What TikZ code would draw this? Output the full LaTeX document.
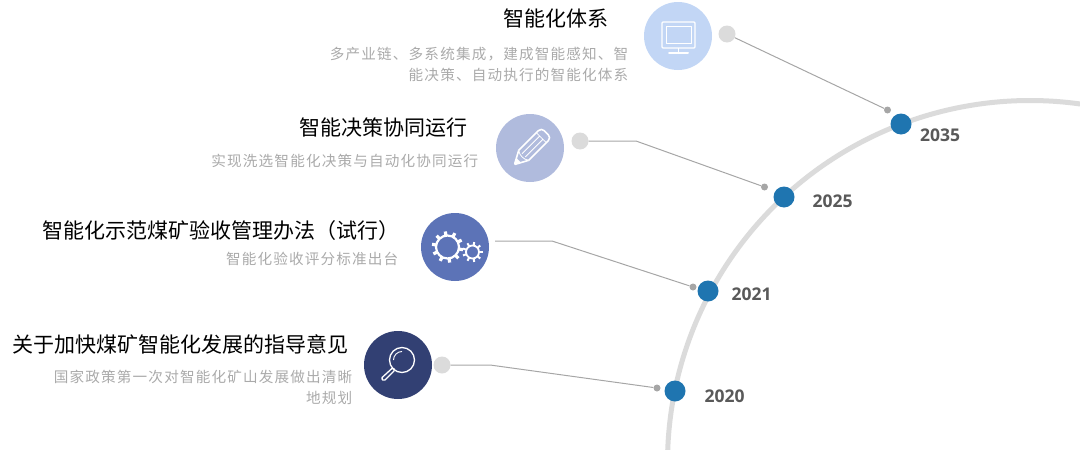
\documentclass[tikz,border=0pt]{standalone}
\usepackage{fontspec}
\setmainfont{Noto Sans CJK SC}
\newfontfamily\subfont[LetterSpace=8]{Noto Sans CJK SC}
\newfontfamily\yearfont{Open Sans}
\definecolor{myblue}{RGB}{31,117,176}
\definecolor{myarc}{RGB}{219,219,219}
\definecolor{myline}{RGB}{166,166,166}
\definecolor{mytext}{RGB}{170,170,170}
\definecolor{myyear}{RGB}{89,89,89}
\definecolor{iconA}{RGB}{194,214,245}
\definecolor{iconB}{RGB}{176,187,221}
\definecolor{iconC}{RGB}{92,115,183}
\definecolor{iconD}{RGB}{50,64,115}
\begin{document}
\begin{tikzpicture}[x=1pt, y=-1pt,
	icon/.style={circle, fill=#1, minimum size=68pt, inner sep=0pt, outer sep=0pt},
	greydot/.style={circle, fill=myarc, minimum size=17pt, inner sep=0pt},
	enddot/.style={circle, fill=myline, minimum size=7pt, inner sep=0pt},
	yeardot/.style={circle, fill=myblue, minimum size=21pt, inner sep=0pt},
	year/.style={font=\yearfont\bfseries\fontsize{17.5}{19}\selectfont, text=myyear, inner sep=0pt},
	title/.style={anchor=east, font=\fontsize{21}{25}\selectfont, text=black, inner sep=0pt},
	sub/.style={anchor=east, align=right, font=\subfont\fontsize{14.6}{21}\selectfont, text=mytext, inner sep=0pt},
	link/.style={draw=myline, line width=1pt},
	glyph/.style={draw=white, line width=1.3pt, line join=round}]
	\clip (0,0) rectangle (1080,450);
	\useasboundingbox (0,0) rectangle (1080,450);
	\draw[myarc, line width=5pt] (1030,463) ++(182:362.5) arc (182:278:362.5);
	% icons
	\node[icon=iconA] (screen) at (678,36) {};
	\node[icon=iconB] (pencil) at (530,148) {};
	\node[icon=iconC] (gears) at (455,247) {};
	\node[icon=iconD] (lens) at (398,365) {};
	% dots
	\node[greydot] (g35) at (727,34) {};
	\node[greydot] (g25) at (580,141) {};
	\node[greydot] (g20) at (442,365) {};
	\coordinate (g21) at (495,241);
	\node[enddot] (e35) at (887.5,110) {};
	\node[enddot] (e25) at (764.5,187) {};
	\node[enddot] (e21) at (693,287) {};
	\node[enddot] (e20) at (657,388) {};
	\node[yeardot] (d35) at (901,124) {};
	\node[yeardot] (d25) at (784,197) {};
	\node[yeardot] (d21) at (708,291) {};
	\node[yeardot] (d20) at (675,391) {};
	% connectors
	\draw[link] (g35) -- (e35);
	\draw[link] (g25) -- (636,141) -- (e25);
	\draw[link] (g21) -- (552,241) -- (e21);
	\draw[link] (g20) -- (490,365) -- (e20);
	% years
	\node[year] (y35) at (940,135) {2035};
	\node[year] (y25) at (832.5,201) {2025};
	\node[year] (y21) at (751.5,294) {2021};
	\node[year] (y20) at (724.5,396) {2020};
	% texts
	\node[title] (t35) at (608.5,18) {智能化体系};
	\node[sub] (s35) at (628.5,64.5) {多产业链、多系统集成，建成智能感知、智\\能决策、自动执行的智能化体系};
	\node[title] (t25) at (467.5,128) {智能决策协同运行};
	\node[sub] (s25) at (478.5,161) {实现洗选智能化决策与自动化协同运行};
	\node[title] (t21) at (400,231) {智能化示范煤矿验收管理办法（试行）};
	\node[sub] (s21) at (398.5,259) {智能化验收评分标准出台};
	\node[title] (t20) at (348.5,344) {关于加快煤矿智能化发展的指导意见};
	\node[sub] (s20) at (352.5,387) {国家政策第一次对智能化矿山发展做出清晰\\地规划};
	% monitor
	\draw[glyph, rounded corners=1pt] (662,22) rectangle (695,48);
	\draw[glyph, line width=.8pt] (666,26) rectangle (691,43);
	\draw[glyph] (678.5,48) -- (678.5,52);
	\draw[glyph, line width=2pt, line cap=round] (669,52.5) -- (688,52.5);
	% pencil
	\begin{scope}[shift={(530,149)}, rotate=45]
		\draw[glyph, line width=1.6pt, rounded corners=4pt] (-9,-7) -- (23,-7) -- (23,7) -- (-9,7);
		\draw[glyph, line width=1.6pt, rounded corners=1pt] (-9,-7) -- (-22,0) -- (-9,7);
		\draw[glyph, line width=.8pt] (-9,-2.3) -- (16,-2.3) (-9,2.3) -- (16,2.3) (16,-7) -- (16,7);
		\draw[glyph, line width=.8pt] (-9,-7) .. controls (-12,-3) and (-12,3) .. (-9,7);
		\fill[white] (-22,0) -- (-16,-3.2) -- (-16,3.2) -- cycle;
	\end{scope}
	% gears
	\draw[white, line width=2.2pt] (447.5,247) circle (11.5);
	\foreach \a in {0,36,...,324}
		\draw[white, line width=3.2pt] (447.5,247) ++(\a+10:11.5) -- ++(\a+10:4.2);
	\draw[white, line width=1.8pt] (472.5,252) circle (6.5);
	\foreach \a in {0,40,...,320}
		\draw[white, line width=2pt] (472.5,252) ++(\a:6.5) -- ++(\a:3.6);
	% magnifier
	\draw[glyph] (402,360) circle (12.5);
	\draw[glyph, line width=.9pt] (393.5,360) arc (180:270:8.5);
	\draw[glyph, rounded corners=1.5pt] (393,367.5) -- (395,370) -- (384,381) -- (381,378.5) -- cycle;
\end{tikzpicture}
\end{document}
